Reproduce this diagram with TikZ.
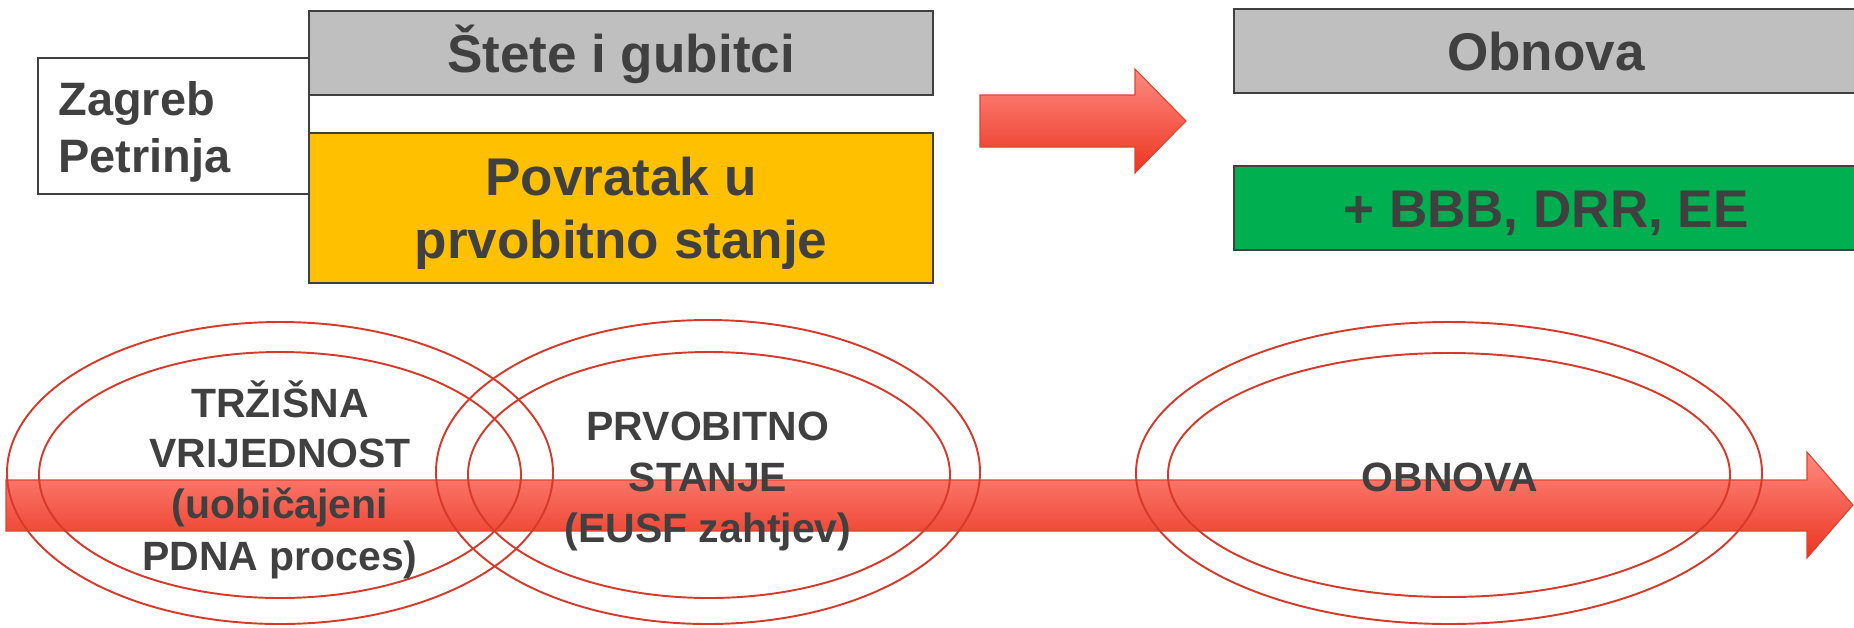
\documentclass[tikz,border=0pt]{standalone}
\usepackage{fontspec}
\setmainfont{Liberation Sans}
\definecolor{txt}{HTML}{404040}
\definecolor{boxgray}{HTML}{BFBFBF}
\definecolor{boxyel}{HTML}{FFC000}
\definecolor{boxgrn}{HTML}{00B050}
\definecolor{redline}{HTML}{D63A2A}
\definecolor{arrtop}{HTML}{FF8A80}
\definecolor{arrbot}{HTML}{EB3520}
\definecolor{arredge}{HTML}{E2432F}
\begin{document}
\begin{tikzpicture}[x=0.02cm,y=-0.02cm,
  boxline/.style={draw=txt, line width=0.9pt},
  bigtxt/.style={inner sep=0pt, anchor=base, text=txt, font=\fontsize{30.2}{36}\selectfont\bfseries},
  cityt/.style={inner sep=0pt, anchor=base west, text=txt, font=\fontsize{26.7}{32}\selectfont\bfseries},
  ovtxt/.style={inner sep=0pt, anchor=base, text=txt, font=\fontsize{23.3}{29}\selectfont\bfseries},
  blockarrow/.style={top color=arrtop, bottom color=arrbot, draw=arredge, line width=0.6pt, line join=miter},
  ring/.style={draw=redline, line width=1.1pt}]
\useasboundingbox (0,0) rectangle (1854,627);
\clip (0,0) rectangle (1854,627);

% top left boxes
\draw[boxline, fill=white] (38,58) rectangle (309,194);
\draw[boxline, fill=boxgray] (309,11) rectangle (933,95);
\draw[boxline, fill=boxyel] (309,133) rectangle (933,283);

% top right boxes
\draw[boxline, fill=boxgray] (1234,9) rectangle (1870,93);
\draw[boxline, fill=boxgrn] (1234,166) rectangle (1870,250);

% small block arrow
\draw[blockarrow] (980,95) -- (1135,95) -- (1135,69) -- (1186,121) -- (1135,173) -- (1135,147) -- (980,147) -- cycle;

% big block arrow
\draw[blockarrow] (6,480) -- (1807,480) -- (1807,452) -- (1853,505) -- (1807,558) -- (1807,531) -- (6,531) -- cycle;

% ellipses
\draw[ring] (280,473) ellipse [x radius=273, y radius=151];
\draw[ring] (280,475) ellipse [x radius=241, y radius=123];
\draw[ring] (708,472) ellipse [x radius=272, y radius=152];
\draw[ring] (709,475) ellipse [x radius=241, y radius=123];
\draw[ring] (1449,473) ellipse [x radius=313, y radius=151];
\draw[ring] (1449,475) ellipse [x radius=281, y radius=122];

% texts
\node[cityt] (zg) at (58,115) {Zagreb};
\node[cityt] (pt) at (58,172) {Petrinja};
\node[bigtxt] (st) at (621,72) {Štete i gubitci};
\node[bigtxt] (pv1) at (621,195) {Povratak u};
\node[bigtxt] (pv2) at (621,258) {prvobitno stanje};
\node[bigtxt] (ob) at (1546,70) {Obnova};
\node[bigtxt] (bb) at (1546,227) {+ BBB, DRR, EE};

\node[ovtxt] (l1) at (280,417) {TRŽIŠNA};
\node[ovtxt] (l2) at (280,467) {VRIJEDNOST};
\node[ovtxt] (l3) at (280,518) {(uobičajeni};
\node[ovtxt] (l4) at (280,570) {PDNA proces)};

\node[ovtxt] (m1) at (708,440) {PRVOBITNO};
\node[ovtxt] (m2) at (708,491) {STANJE};
\node[ovtxt] (m3) at (708,542) {(EUSF zahtjev)};

\node[ovtxt] (r1) at (1450,491) {OBNOVA};
\end{tikzpicture}
\end{document}
